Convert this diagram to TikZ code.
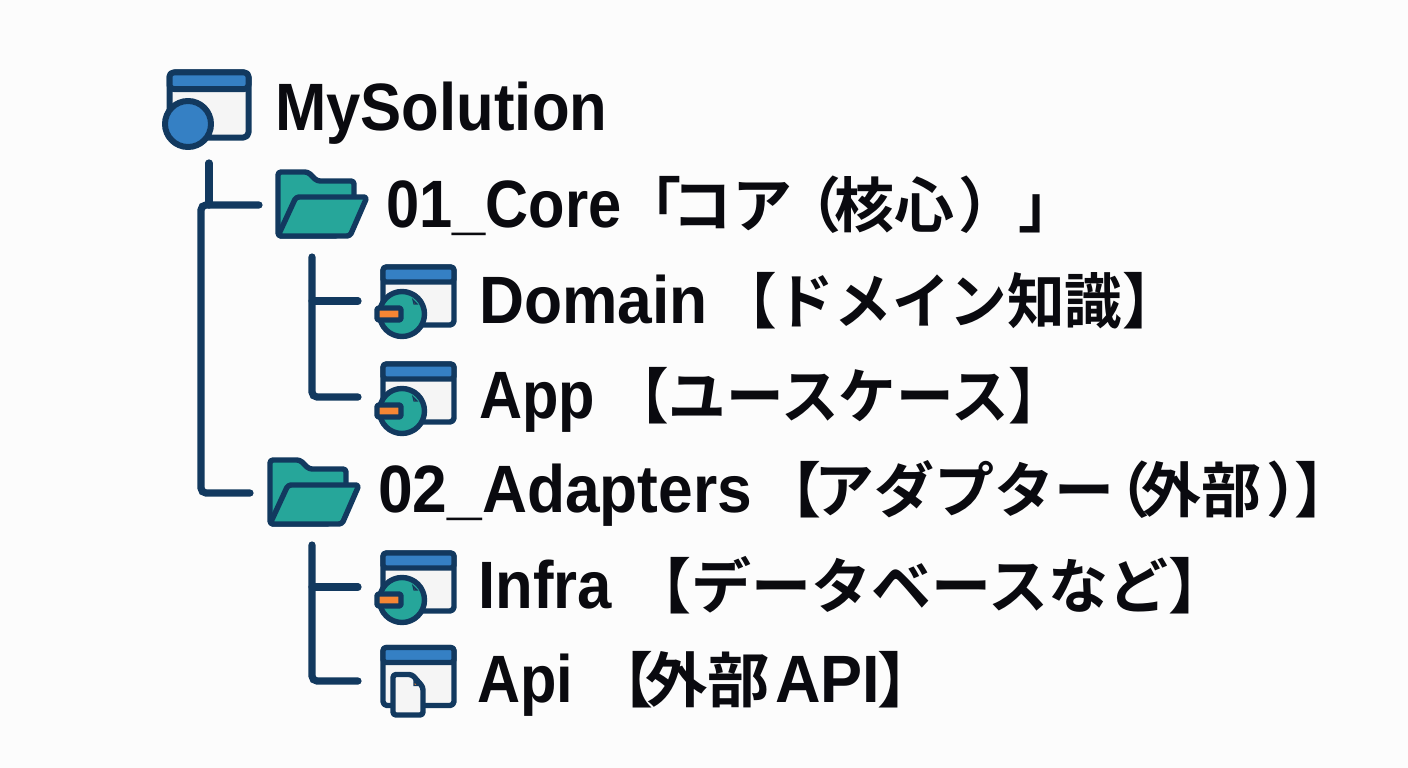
\documentclass[tikz,border=0pt]{standalone}
\usepackage{fontspec}
\usepackage{graphicx}
\newfontfamily\latf{Liberation Sans}
\newfontfamily\cjkf{Noto Sans CJK JP Bold}
\definecolor{navy}{HTML}{12395F}
\definecolor{barblue}{HTML}{3580C4}
\definecolor{teal2}{HTML}{26A69A}
\definecolor{paper}{HTML}{F5F5F5}
\definecolor{tag}{HTML}{F58634}
\definecolor{ink}{HTML}{0A0A0F}
% width-controlled groups: #1 advance in pt, #2 content
\newcommand{\gp}[2]{\makebox[#1pt][l]{#2}}
\newcommand{\lat}[2]{\scalebox{#1}[1]{\fontsize{67}{67}\selectfont\latf\bfseries #2}}
\newcommand{\jp}[1]{{\fontsize{60}{60}\selectfont\cjkf #1}}
\tikzset{
  x=1pt,y=-1pt,
  link/.style={draw=navy,line width=7.2pt,line cap=round,rounded corners=5pt},
  outline/.style={draw=navy,line width=5.4pt,line join=round},
  label/.style={anchor=base west,inner sep=0pt,text=ink},
  window/.pic={
    \path[outline,fill=paper,rounded corners=4pt] (0,0) rectangle (71,58);
    \path[outline,fill=barblue,rounded corners=3pt] (0,0) -- (71,0) -- (71,15) -- (0,15) -- cycle;
  },
  globe/.pic={
    \path[outline,fill=teal2] (19,47) circle (22.5);
    \path[draw=navy,line width=1.2pt,fill=tag] (30,33) -- (34,37) -- (31,37) -- cycle;
    \path[outline,fill=tag,rounded corners=1.5pt] (-6,41) rectangle (18,53);
  },
  folder/.pic={
    \path[outline,fill=teal2,rounded corners=3pt] (0,64) -- (0,0) -- (30,0) -- (39,9) -- (76,9) -- (76,30) -- (60,64) -- cycle;
    \path[outline,fill=teal2,rounded corners=3pt] (0,64) -- (18,25) -- (89,25) -- (72,64) -- cycle;
  }
}
\begin{document}
\begin{tikzpicture}
\useasboundingbox (0,0) rectangle (1408,768);
\fill[white!99!black] (0,0) rectangle (1408,768);

% root icon
\path[outline,line width=6pt,fill=paper,rounded corners=5pt] (169.5,72.5) rectangle (248.5,137.5);
\path[outline,line width=6pt,fill=barblue,rounded corners=4pt] (169.5,72.5) -- (248.5,72.5) -- (248.5,89) -- (169.5,89) -- cycle;
\path[outline,line width=6pt,fill=barblue] (188,124) circle (23);

% folders and window icons
\pic at (278,172) {folder};
\pic at (270,460) {folder};
\pic at (383,267) {window};
\pic at (383,267) {globe};
\pic at (383,364) {window};
\pic at (383,364) {globe};
\pic at (383,553) {window};
\pic at (383,553) {globe};
\pic at (383,647.5) {window};
% document icon
\path[outline,fill=paper,rounded corners=3pt] (393,674.5) -- (412,674.5) -- (423,687) -- (423,715) -- (393,715) -- cycle;
\path[draw=navy,line width=1.2pt,fill=tag] (414,681) -- (418,685.5) -- (414,685.5) -- cycle;

% labels
\node[label] (root) at (275,130) {\lat{.92}{MySolution}};
\node[label] (core) at (386,227) {\gp{235}{\lat{.89}{01\_Core}}\gp{51}{\jp{「}}\gp{109}{\jp{コア}}\gp{53}{\jp{（}}\gp{124}{\jp{核心}}\gp{60}{\jp{）}}\jp{」}};
\node[label] (domain) at (479,323) {\gp{240}{\lat{.93}{Domain}}\scalebox{.96}[1]{\jp{【ドメイン知識】}}};
\node[label] (app) at (479,418) {\gp{132}{\lat{.89}{App}}\scalebox{.96}[1]{\jp{【ユースケース】}}};
\node[label] (adapters) at (378,512) {\gp{383}{\lat{.93}{02\_Adapters}}\gp{53}{\jp{【}}\gp{276}{\jp{アダプター}}\gp{51}{\jp{（}}\gp{125}{\jp{外部}}\gp{28}{\jp{）}}\jp{】}};
\node[label] (infra) at (478,608) {\gp{153}{\lat{.92}{Infra}}\jp{【データベースなど】}};
\node[label] (api) at (477,702) {\gp{116}{\lat{.89}{Api}}\gp{52}{\jp{【}}\gp{130}{\scalebox{1.04}[1]{\jp{外部}}}\gp{102}{\lat{.94}{API}}\jp{】}};

% connectors
\coordinate (rootstem) at (209,163);
\coordinate (trunktop) at (201,205);
\coordinate (stemfoot) at (209,205);
\coordinate (coreend) at (259,205);
\coordinate (adaptersend) at (250,493);
\coordinate (coretop) at (312,257);
\coordinate (corejoin) at (312,301);
\coordinate (domainend) at (358,301);
\coordinate (append) at (358,397);
\coordinate (adtop) at (312,545);
\coordinate (adjoin) at (312,587);
\coordinate (infraend) at (358,587);
\coordinate (apiend) at (358,681);

\draw[link] (rootstem) -- (stemfoot);
\draw[link] (coreend) -- (trunktop) |- (adaptersend);
\draw[link] (coretop) |- (append);
\draw[link] (corejoin) -- (domainend);
\draw[link] (adtop) |- (apiend);
\draw[link] (adjoin) -- (infraend);
\end{tikzpicture}
\end{document}
